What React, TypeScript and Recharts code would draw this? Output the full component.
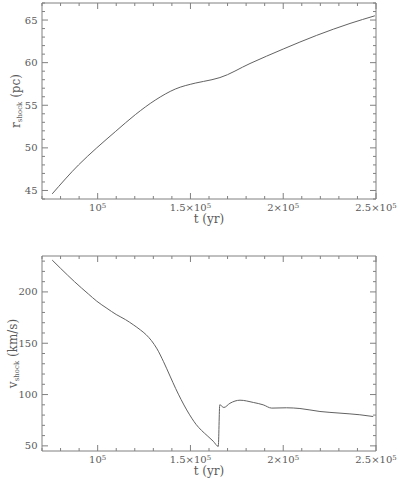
import React from 'react';
import { LineChart, Line, XAxis, YAxis } from 'recharts';

// ---- data ----
const T_R = [75500, 89700, 99500, 109500, 120300, 131000, 141800, 152600, 161600, 165900, 182100, 200000, 218000, 236000, 249400];
const R_SHOCK = [44.6, 48.0, 50.0, 51.9, 53.9, 55.6, 56.9, 57.6, 58.0, 58.25, 59.9, 61.6, 63.2, 64.6, 65.5];

const T_V = [75500, 80000, 87500, 95000, 99500, 105000, 110000, 115000, 119200, 123000, 126000, 129000, 132000, 135500, 139000, 142000, 145000, 148000, 150700, 153000, 156000, 159000, 162300, 165000, 165800, 168000, 171300, 176700, 183900, 189200, 193800, 201800, 209000, 219800, 230600, 241300, 248500];
const V_SHOCK = [231, 223, 210, 198, 191, 184, 178, 173, 168, 163, 158.5, 152.5, 144.5, 132, 118, 106, 95, 85, 77, 71, 65, 60, 54.5, 49.5, 90, 87.4, 91.5, 94.5, 92.3, 90, 86.8, 87.1, 86.4, 83.5, 81.9, 80.3, 78.6];

// ---- axes ----
const T_DOMAIN = [70000, 250000];
const T_TICKS = [70000, 80000, 90000, 100000, 110000, 120000, 130000, 140000, 150000, 160000, 170000, 180000, 190000, 200000, 210000, 220000, 230000, 240000, 250000];
const T_MAJOR = [100000, 150000, 200000, 250000];
const T_LABELS = ['10^5', '1.5×10^5', '2×10^5', '2.5×10^5'];

const R_DOMAIN = [44, 67];
const R_TICKS = [44, 45, 46, 47, 48, 49, 50, 51, 52, 53, 54, 55, 56, 57, 58, 59, 60, 61, 62, 63, 64, 65, 66, 67];
const R_MAJOR = [45, 50, 55, 60, 65];
const R_LABELS = ['45', '50', '55', '60', '65'];

const V_DOMAIN = [45, 235];
const V_TICKS = [50, 60, 70, 80, 90, 100, 110, 120, 130, 140, 150, 160, 170, 180, 190, 200, 210, 220, 230];
const V_MAJOR = [50, 100, 150, 200];
const V_LABELS = ['50', '100', '150', '200'];

const rData = T_R.map((t, i) => ({ t, r: R_SHOCK[i] }));
const vData = T_V.map((t, i) => ({ t, v: V_SHOCK[i] }));

// ---- style / layout ----
const AXIS = '#808080';
const TEXT = '#5a5a5a';
const LINE = '#626262';
const FONT = 'DejaVu Serif';
const W = 400;
const LEFT = 42;
const RIGHT = 24;

function renderSup(label: string) {
  const [base, exp] = label.split('^');
  if (exp === undefined) return label;
  return [
    <tspan key="b">{base}</tspan>,
    <tspan key="e" dy="-0.45em" fontSize={7}>{exp}</tspan>,
  ];
}

// pos = position of the axis line (cross coordinate); along-axis coordinate comes from the scale
function makeTick(kind: 'bottom' | 'top' | 'left' | 'right', pos: number, majors: number[], labels?: string[]) {
  return (props: any) => {
    const horizontal = kind === 'bottom' || kind === 'top';
    const c = Number(horizontal ? props.x : props.y);
    const idx = majors.indexOf(props.payload.value);
    const len = idx >= 0 ? 6 : 3;
    let d = '';
    if (kind === 'bottom') d = `M${c},${pos}V${pos - len}`;
    if (kind === 'top') d = `M${c},${pos}V${pos + len}`;
    if (kind === 'left') d = `M${pos},${c}H${pos + len}`;
    if (kind === 'right') d = `M${pos},${c}H${pos - len}`;
    return (
      <g>
        <path d={d} stroke={AXIS} strokeWidth={1} fill="none" />
        {labels && idx >= 0 && kind === 'bottom' && (
          <text x={c} y={pos + 8.5} dy="0.35em" textAnchor="middle" fill={TEXT} fontSize={10} fontFamily={FONT}>
            {renderSup(labels[idx])}
          </text>
        )}
        {labels && idx >= 0 && kind === 'left' && (
          <text x={pos - 4.5} y={c} dy="0.35em" textAnchor="end" fill={TEXT} fontSize={10} fontFamily={FONT}>
            {labels[idx]}
          </text>
        )}
      </g>
    );
  };
}

function makeXTitle(pos: number) {
  return (props: any) => {
    const vb = props.viewBox;
    return (
      <text x={vb.x + vb.width / 2} y={pos + 19.5} dy="0.35em" textAnchor="middle" fill={TEXT} fontSize={12} fontFamily={FONT}>
        t (yr)
      </text>
    );
  };
}

function makeYTitle(main: string, sub: string, rest: string, cx: number, top: number, bottom: number) {
  return () => {
    const cy = (top + bottom) / 2;
    return (
      <text x={cx} y={cy} dy="0.35em" transform={`rotate(-90, ${cx}, ${cy})`} textAnchor="middle" fill={TEXT} fontSize={12} fontFamily={FONT}>
        {main}
        <tspan fontSize={7} dy={2}>{sub}</tspan>
        <tspan dy={-2}>{' ' + rest}</tspan>
      </text>
    );
  };
}

function Panel(props: {
  data: any[]; dataKey: string; height: number; top: number; xHeight: number;
  yDomain: number[]; yTicks: number[]; yMajor: number[]; yLabels: string[];
  title: [string, string, string, number];
}) {
  const { data, dataKey, height, top, xHeight, yDomain, yTicks, yMajor, yLabels, title } = props;
  const bottomPos = height - xHeight;
  const rightPos = W - RIGHT;
  const axisLine = { stroke: AXIS, strokeWidth: 1 };
  return (
    <LineChart width={W} height={height} data={data} margin={{ top: top - 1, right: RIGHT - 1, bottom: 0, left: 0 }}>
      <XAxis
        xAxisId="b" dataKey="t" type="number" domain={T_DOMAIN} ticks={T_TICKS} interval={0}
        height={xHeight} tickSize={0} tickMargin={0} axisLine={axisLine} tickLine={false}
        tick={makeTick('bottom', bottomPos, T_MAJOR, T_LABELS)} label={{ content: makeXTitle(bottomPos) }}
        allowDataOverflow
      />
      <XAxis
        xAxisId="t" orientation="top" dataKey="t" type="number" domain={T_DOMAIN} ticks={T_TICKS} interval={0}
        height={1} tickSize={0} tickMargin={0} axisLine={axisLine} tickLine={false}
        tick={makeTick('top', top, T_MAJOR)} allowDataOverflow
      />
      <YAxis
        yAxisId="l" type="number" domain={yDomain} ticks={yTicks} interval={0}
        width={LEFT} tickSize={0} tickMargin={0} axisLine={axisLine} tickLine={false}
        tick={makeTick('left', LEFT, yMajor, yLabels)}
        label={{ content: makeYTitle(title[0], title[1], title[2], title[3], top, bottomPos) }}
        allowDataOverflow
      />
      <YAxis
        yAxisId="r" orientation="right" type="number" domain={yDomain} ticks={yTicks} interval={0}
        width={1} tickSize={0} tickMargin={0} axisLine={axisLine} tickLine={false}
        tick={makeTick('right', rightPos, yMajor)} allowDataOverflow
      />
      <Line
        xAxisId="b" yAxisId="l" dataKey={dataKey} type="monotone" stroke={LINE} strokeWidth={1}
        dot={false} activeDot={false} isAnimationActive={false}
      />
      <Line
        xAxisId="t" yAxisId="r" dataKey={dataKey} type="monotone" stroke="none" strokeWidth={0}
        dot={false} activeDot={false} isAnimationActive={false} legendType="none"
      />
    </LineChart>
  );
}

export default function App() {
  return (
    <div style={{ position: 'absolute', left: 0, top: 0, width: 400, height: 479, background: '#fff' }}>
      <Panel
        data={rData} dataKey="r" height={240} top={3} xHeight={41}
        yDomain={R_DOMAIN} yTicks={R_TICKS} yMajor={R_MAJOR} yLabels={R_LABELS}
        title={['r', 'shock', '(pc)', 16]}
      />
      <Panel
        data={vData} dataKey="v" height={239} top={16} xHeight={28}
        yDomain={V_DOMAIN} yTicks={V_TICKS} yMajor={V_MAJOR} yLabels={V_LABELS}
        title={['v', 'shock', '(km/s)', 13]}
      />
    </div>
  );
}
